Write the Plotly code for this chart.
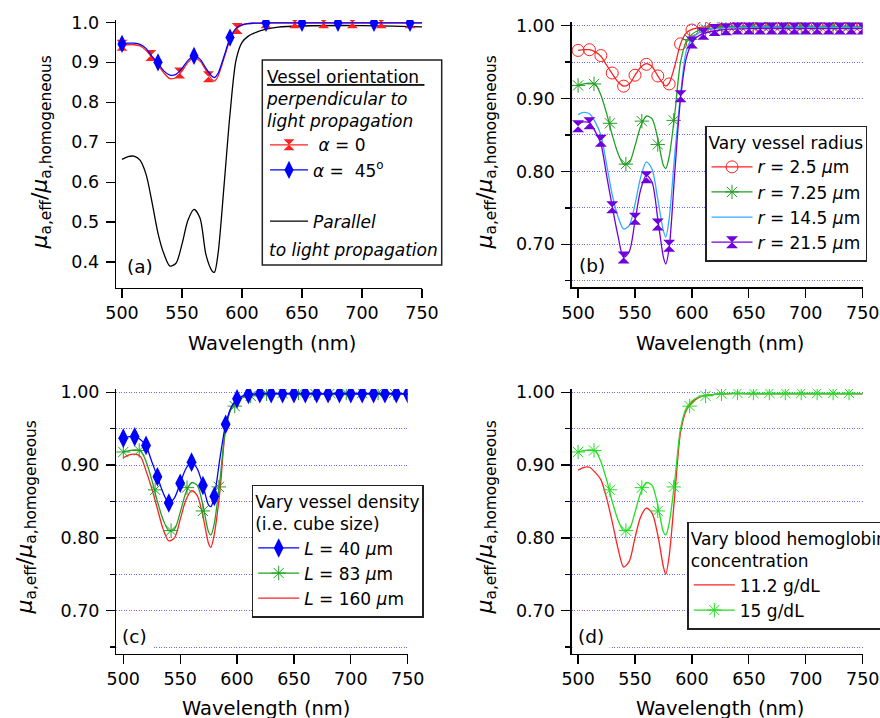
import plotly.graph_objects as go

# ---------------- data ----------------
CURVE_WL = [500, 505, 510, 515, 520, 525, 530, 535, 540, 545, 550, 555, 560, 565,
            570, 575, 577, 580, 585, 590, 595, 600, 605, 610, 620, 630, 650, 700, 750]

# (a) vessel orientation
A_RED = [0.943, 0.944, 0.944, 0.941, 0.930, 0.912, 0.893, 0.873, 0.859, 0.862, 0.878, 0.900, 0.911, 0.903,
         0.880, 0.857, 0.853, 0.865, 0.910, 0.956, 0.983, 0.993, 0.997, 0.998, 0.999, 0.999, 0.999, 0.999, 0.999]
A_BLUE = [0.947, 0.948, 0.948, 0.945, 0.935, 0.915, 0.898, 0.878, 0.868, 0.870, 0.885, 0.905, 0.916, 0.908,
          0.885, 0.865, 0.862, 0.872, 0.915, 0.960, 0.985, 0.994, 0.997, 0.998, 0.999, 0.999, 0.999, 0.999, 0.999]
A_PAR = [0.657, 0.664, 0.665, 0.655, 0.620, 0.550, 0.472, 0.420, 0.390, 0.397, 0.445, 0.505, 0.532, 0.510,
         0.418, 0.378, 0.374, 0.420, 0.590, 0.770, 0.905, 0.950, 0.965, 0.973, 0.983, 0.988, 0.991, 0.992, 0.989]
A_RED_MWL = [500, 524, 548, 572, 596, 620, 644, 668, 692, 716, 740]
A_RED_MVAL = [0.943, 0.917, 0.873, 0.864, 0.985, 0.999, 0.999, 0.999, 0.999, 0.999, 0.999]
A_BLUE_MWL = [500, 530, 560, 590, 620, 650, 680, 710, 740]
A_BLUE_MVAL = [0.946, 0.900, 0.916, 0.962, 0.999, 0.999, 0.999, 0.999, 0.999]

# (b) vessel radius
B_RED = [0.966, 0.967, 0.967, 0.964, 0.958, 0.946, 0.934, 0.923, 0.917, 0.920, 0.932, 0.943, 0.948, 0.944,
         0.931, 0.920, 0.917, 0.921, 0.945, 0.975, 0.990, 0.995, 0.997, 0.998, 0.999, 0.999, 0.999, 0.999, 0.999]
GREEN = [0.918, 0.920, 0.921, 0.920, 0.905, 0.880, 0.850, 0.825, 0.810, 0.812, 0.835, 0.862, 0.876, 0.872,
         0.845, 0.808, 0.804, 0.820, 0.880, 0.950, 0.978, 0.988, 0.993, 0.995, 0.997, 0.998, 0.998, 0.998, 0.998]
B_CYAN = [0.878, 0.881, 0.879, 0.868, 0.850, 0.810, 0.768, 0.738, 0.721, 0.726, 0.755, 0.792, 0.813, 0.803,
          0.762, 0.718, 0.710, 0.735, 0.825, 0.905, 0.965, 0.982, 0.989, 0.993, 0.996, 0.997, 0.998, 0.998, 0.998]
B_PUR = [0.866, 0.868, 0.867, 0.855, 0.838, 0.795, 0.752, 0.712, 0.682, 0.690, 0.732, 0.775, 0.795, 0.785,
         0.735, 0.682, 0.673, 0.695, 0.800, 0.900, 0.955, 0.976, 0.985, 0.989, 0.993, 0.995, 0.996, 0.996, 0.996]
B_MWL = [500, 510, 520, 530, 540, 550, 560, 570, 580, 590, 600, 610, 620,
         630, 640, 650, 660, 670, 680, 690, 700, 710, 720, 730, 740, 750]
B_RED_MVAL = [0.966, 0.967, 0.959, 0.935, 0.917, 0.932, 0.947, 0.931, 0.920, 0.975, 0.994, 0.998, 0.999,
              0.999, 0.999, 0.999, 0.999, 0.999, 0.999, 0.999, 0.999, 0.999, 0.999, 0.999, 0.999, 0.999]
B_PUR_MVAL = [0.862, 0.866, 0.842, 0.751, 0.682, 0.735, 0.792, 0.727, 0.698, 0.903, 0.977, 0.989, 0.994,
              0.995, 0.996, 0.996, 0.996, 0.996, 0.996, 0.996, 0.996, 0.996, 0.996, 0.996, 0.996, 0.996]
GREEN_MWL = [500, 514, 528, 542, 556, 570, 584, 598, 612, 626, 640, 654, 668, 682, 696, 710, 724, 738]
GREEN_MVAL = [0.918, 0.920, 0.866, 0.810, 0.869, 0.837, 0.870, 0.981, 0.995, 0.998,
              0.999, 0.999, 0.999, 0.999, 0.999, 0.999, 0.999, 0.999]

# (c) vessel density
C_BLUE = [0.937, 0.939, 0.939, 0.935, 0.926, 0.905, 0.884, 0.862, 0.848, 0.855, 0.875, 0.895, 0.904, 0.895,
          0.872, 0.845, 0.843, 0.857, 0.910, 0.956, 0.980, 0.990, 0.995, 0.997, 0.998, 0.998, 0.998, 0.998, 0.998]
C_RED = [0.910, 0.914, 0.915, 0.912, 0.892, 0.868, 0.840, 0.812, 0.796, 0.800, 0.825, 0.852, 0.865, 0.858,
         0.830, 0.792, 0.787, 0.805, 0.865, 0.950, 0.978, 0.988, 0.993, 0.995, 0.997, 0.998, 0.998, 0.998, 0.998]
C_BLUE_MVAL = [0.937, 0.939, 0.927, 0.884, 0.848, 0.875, 0.904, 0.872, 0.857, 0.956, 0.991, 0.997, 0.998,
               0.998, 0.998, 0.998, 0.998, 0.998, 0.998, 0.998, 0.998, 0.998, 0.998, 0.998, 0.998, 0.998]

# (d) hemoglobin concentration
D_RED = [0.893, 0.897, 0.897, 0.890, 0.880, 0.855, 0.822, 0.786, 0.760, 0.768, 0.800, 0.829, 0.841, 0.834,
         0.804, 0.760, 0.750, 0.775, 0.860, 0.945, 0.975, 0.986, 0.992, 0.995, 0.997, 0.998, 0.998, 0.998, 0.998]

X_TICKS = [500, 550, 600, 650, 700, 750]
YA_TICKS = [0.4, 0.5, 0.6, 0.7, 0.8, 0.9, 1.0]
YA_TEXT = ["0.4", "0.5", "0.6", "0.7", "0.8", "0.9", "1.0"]
Y_TICKS = [0.70, 0.80, 0.90, 1.00]
Y_TEXT = ["0.70", "0.80", "0.90", "1.00"]
Y_MINOR = [0.65, 0.75, 0.85, 0.95]

# ---------------- styling ----------------
W, H = 880, 718
FONT = "DejaVu Sans"
RED = "#ff2020"
BLUE = "#0000ff"
GRN = "#22a022"
LGRN = "#22dd22"
CYAN = "#33aaff"
PUR = "#7000dd"
GRID = "#6a6aff"
GDASH = "1px,1.5px"
LW = 1.3


def px(x):
    return x / W


def py(y):
    return 1 - y / H


fig = go.Figure()


def curve(ax, y, color):
    fig.add_trace(go.Scatter(
        x=CURVE_WL, y=y, mode="lines", xaxis="x" + ax, yaxis="y" + ax,
        line=dict(color=color, width=LW, shape="spline", smoothing=0.8),
        showlegend=False, hoverinfo="skip"))


def marks(ax, x, y, marker):
    fig.add_trace(go.Scatter(
        x=x, y=y, mode="markers", xaxis="x" + ax, yaxis="y" + ax,
        marker=marker, showlegend=False, hoverinfo="skip"))


def key(name, color, marker, legend, group=None):
    fig.add_trace(go.Scatter(
        x=[None], y=[None], mode="lines+markers", name=name, legend=legend,
        legendgroup=group, line=dict(color=color, width=LW), marker=marker, showlegend=True))


def linekey(name, color, legend, group=None):
    fig.add_trace(go.Scatter(
        x=[None], y=[None], mode="lines", name=name, legend=legend,
        legendgroup=group, line=dict(color=color, width=LW), showlegend=True))


mk_a_red = dict(symbol="hourglass", size=11, color=RED)
mk_a_blue = dict(symbol="diamond-tall", size=13, color=BLUE)
mk_b_red = dict(symbol="circle-open", size=12, color=RED, line=dict(color=RED, width=1))
mk_green = dict(symbol="asterisk-open", size=12, color=GRN, line=dict(color=GRN, width=1))
mk_lgreen = dict(symbol="asterisk-open", size=12, color=LGRN, line=dict(color=LGRN, width=1))
mk_pur = dict(symbol="hourglass", size=12, color=PUR)
mk_c_blue = dict(symbol="diamond-tall", size=14, color=BLUE)

# (a)
curve("", A_PAR, "black")
curve("", A_RED, RED)
marks("", A_RED_MWL, A_RED_MVAL, mk_a_red)
curve("", A_BLUE, BLUE)
marks("", A_BLUE_MWL, A_BLUE_MVAL, mk_a_blue)
key("&nbsp;<i>α</i> = 0", RED, mk_a_red, "legend", "perp")
key("<i>α</i> =  45<sup>o</sup>", BLUE, mk_a_blue, "legend", "perp")
linekey("<i>Parallel</i>", "black", "legend", "par")

# (b)
curve("2", B_RED, RED)
marks("2", B_MWL, B_RED_MVAL, mk_b_red)
curve("2", GREEN, GRN)
marks("2", GREEN_MWL, GREEN_MVAL, mk_green)
curve("2", B_CYAN, CYAN)
curve("2", B_PUR, PUR)
marks("2", B_MWL, B_PUR_MVAL, mk_pur)
key("<i>r</i> = 2.5 <i>μ</i>m", RED, mk_b_red, "legend2")
key("<i>r</i> = 7.25 <i>μ</i>m", GRN, mk_green, "legend2")
linekey("<i>r</i> = 14.5 <i>μ</i>m", CYAN, "legend2")
key("<i>r</i> = 21.5 <i>μ</i>m", PUR, mk_pur, "legend2")

# (c)
curve("3", C_RED, RED)
curve("3", GREEN, GRN)
marks("3", GREEN_MWL, GREEN_MVAL, mk_green)
curve("3", C_BLUE, BLUE)
marks("3", B_MWL, C_BLUE_MVAL, mk_c_blue)
key("<i>L</i> = 40 <i>μ</i>m", BLUE, mk_c_blue, "legend3")
key("<i>L</i> = 83 <i>μ</i>m", GRN, mk_green, "legend3")
linekey("<i>L</i> = 160 <i>μ</i>m", RED, "legend3")

# (d)
curve("4", D_RED, RED)
curve("4", GREEN, LGRN)
marks("4", GREEN_MWL, GREEN_MVAL, mk_lgreen)
linekey("11.2 g/dL", RED, "legend4")
key("15 g/dL", LGRN, mk_lgreen, "legend4")

# ---------------- axes ----------------
YTITLE = "<i>μ</i><sub>a,eff</sub>/<i>μ</i><sub>a,homogeneous</sub>"
XTITLE = "Wavelength (nm)"
tickfont = dict(family=FONT, size=17.5, color="black")


def xaxis(x0, x1, lo, anchor):
    return dict(domain=[px(x0), px(x1)], range=[lo, 750], anchor=anchor,
                showline=True, linecolor="black", linewidth=LW, mirror=False,
                ticks="outside", ticklen=9, tickwidth=LW, tickcolor="black",
                tickvals=X_TICKS, tickfont=tickfont, showgrid=False, zeroline=False,
                automargin=False)


def yaxis(y0, y1, lo, hi, anchor, grid=True):
    d = dict(domain=[py(y1), py(y0)], range=[lo, hi], anchor=anchor,
             showline=True, linecolor="black", linewidth=LW, mirror=False,
             ticks="outside", ticklen=9, tickwidth=LW, tickcolor="black",
             tickfont=tickfont, zeroline=False, ticklabelstandoff=3, automargin=False)
    if grid:
        d.update(tickvals=Y_TICKS, ticktext=Y_TEXT, showgrid=True, gridcolor=GRID,
                 griddash=GDASH, gridwidth=1,
                 minor=dict(tickvals=Y_MINOR, ticks="outside", ticklen=5, tickwidth=LW,
                            tickcolor="black", showgrid=True, gridcolor=GRID,
                            griddash=GDASH, gridwidth=1))
    else:
        d.update(tickvals=YA_TICKS, ticktext=YA_TEXT, showgrid=False)
    return d


legfont = dict(family=FONT, size=17, color="black")
lblfont = dict(family=FONT, size=18.5, color="black")
xtfont = dict(family=FONT, size=19.5, color="black")
ytfont = dict(family=FONT, size=22, color="black")


def ann(text, x, y, font, **kw):
    d = dict(text=text, xref="paper", yref="paper", x=px(x), y=py(y),
             xanchor="center", yanchor="middle", showarrow=False, font=font)
    d.update(kw)
    return d


annotations = [
    ann(XTITLE, 272, 343, xtfont),
    ann(XTITLE, 720, 343, xtfont),
    ann(XTITLE, 266, 708, xtfont),
    ann(XTITLE, 720, 708, xtfont),
    ann(YTITLE, 40.5, 153, ytfont, textangle=-90),
    ann(YTITLE, 485.5, 153, ytfont, textangle=-90),
    ann(YTITLE, 25.5, 518, ytfont, textangle=-90),
    ann(YTITLE, 485.5, 518, ytfont, textangle=-90),
    ann("<i>to light propagation</i>", 267, 250, legfont, xanchor="left"),
    ann("(a)", 139.7, 266.7, lblfont),
    ann("(b)", 592, 265, lblfont),
    ann("(c)", 134.7, 636.7, lblfont, bgcolor="white", borderpad=5),
    ann("(d)", 590.5, 636.7, lblfont, bgcolor="white", borderpad=5),
]

fig.update_layout(
    width=W, height=H, autosize=False,
    margin=dict(l=0, r=0, t=0, b=0, autoexpand=False),
    paper_bgcolor="white", plot_bgcolor="white",
    font=dict(family=FONT, color="black"),
    xaxis=xaxis(116, 422, 495, "y"),
    yaxis=yaxis(20, 288, 0.335, 1.006, "x", grid=False),
    xaxis2=xaxis(571.7, 862.7, 494.4, "y2"),
    yaxis2=yaxis(22, 287.3, 0.641, 1.005, "x2"),
    xaxis3=xaxis(116.3, 407.7, 493.85, "y3"),
    yaxis3=yaxis(389, 654, 0.6405, 1.0045, "x3"),
    xaxis4=xaxis(571.7, 862.7, 494.4, "y4"),
    yaxis4=yaxis(389, 654, 0.6405, 1.0045, "x4"),
    legend=dict(x=px(265), y=py(61), xanchor="left", yanchor="top",
                bgcolor="rgba(0,0,0,0)", borderwidth=0, font=legfont,
                traceorder="grouped", tracegroupgap=26, itemwidth=38,
                title=dict(text="<u>Vessel orientation&nbsp;</u><br><i>perpendicular to</i><br><i>light propagation</i>",
                           font=legfont)),
    legend2=dict(x=px(705), y=py(125.7), xanchor="left", yanchor="top",
                 bgcolor="white", bordercolor="#222222", borderwidth=1.5, font=legfont,
                 itemwidth=41,
                 title=dict(text="Vary vessel radius", font=legfont)),
    legend3=dict(x=px(251.7), y=py(484.7), xanchor="left", yanchor="top",
                 bgcolor="white", bordercolor="#222222", borderwidth=1.5, font=legfont,
                 itemwidth=41,
                 title=dict(text="Vary vessel density<br>(i.e. cube size)", font=legfont)),
    legend4=dict(x=px(687.3), y=py(521.7), xanchor="left", yanchor="top",
                 bgcolor="white", bordercolor="#222222", borderwidth=1.5, font=legfont,
                 itemwidth=41,
                 title=dict(text="Vary blood hemoglobin<br>concentration", font=legfont)),
    shapes=[dict(type="rect", xref="paper", yref="paper",
                 x0=px(262.3), x1=px(441.7), y0=py(265), y1=py(60),
                 line=dict(color="#222222", width=1.5), fillcolor="rgba(0,0,0,0)")],
    annotations=annotations,
)

fig.write_html("out.html",
               config=dict(displayModeBar=False, staticPlot=True),
               post_script="document.body.style.margin='0';document.body.style.padding='0';"
                           "document.body.style.overflow='hidden';")
